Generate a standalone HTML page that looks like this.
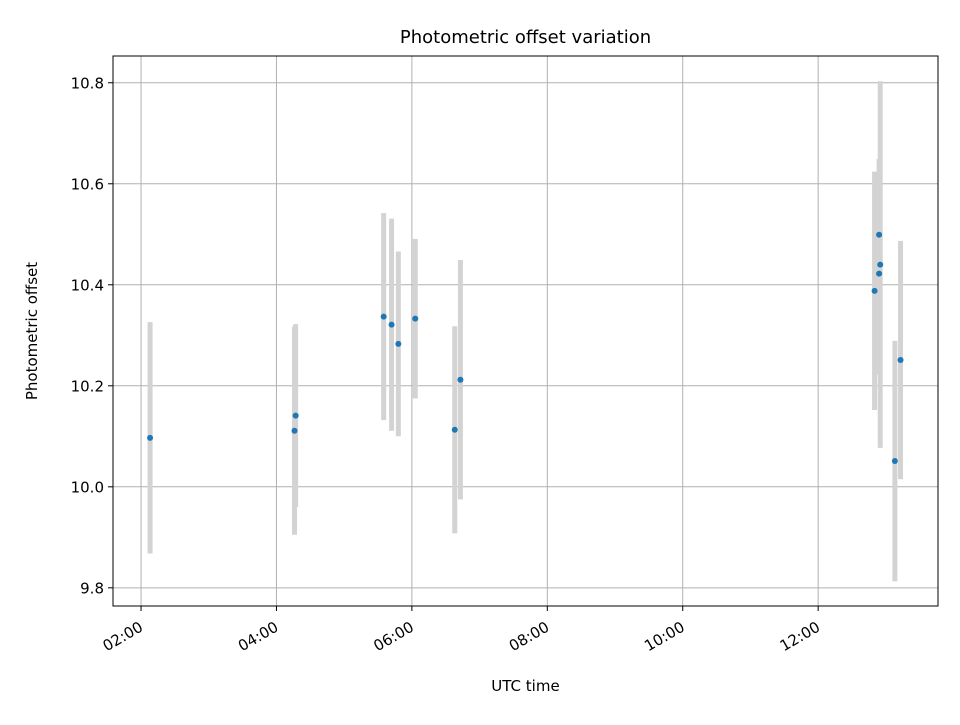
<!DOCTYPE html>
<html><head><meta charset="utf-8"><style>
body{margin:0;background:#fff}
svg text{font-family:"DejaVu Sans","Liberation Sans",sans-serif}
</style></head><body>
<svg id="chart" width="960" height="720" xmlns="http://www.w3.org/2000/svg"></svg>
<script>
const times=[128,256,257,335,342,348,363,398,403,770,774,775,774,788,793];
const values=[10.097,10.111,10.141,10.337,10.321,10.283,10.333,10.113,10.212,10.388,10.499,10.440,10.422,10.051,10.251];
const errors=[0.229,0.206,0.181,0.205,0.21,0.183,0.158,0.205,0.237,0.236,0.15,0.363,0.2,0.238,0.236];
const yTicks=[9.8,10.0,10.2,10.4,10.6,10.8];
const xTicks=[120,240,360,480,600,720];
const xTickLabels=["02:00","04:00","06:00","08:00","10:00","12:00"];
const L=113,R=938,T=56,B=606;
const x=m=>L+(m/60-1.586)/(13.77-1.586)*(R-L);
const y=v=>B-(v-9.764)/(10.853-9.764)*(B-T);
const s=document.getElementById('chart');const NS="http://www.w3.org/2000/svg";
function el(t,a,p){const e=document.createElementNS(NS,t);for(const k in a)e.setAttribute(k,a[k]);(p||s).appendChild(e);return e;}
const grid=el('g',{});


yTicks.forEach(v=>{const g=el('line',{x1:L,x2:R,y1:y(v),y2:y(v),stroke:'#b0b0b0','stroke-width':1},grid);


const t=el('line',{x1:L-5,x2:L,y1:y(v),y2:y(v),stroke:'#000'});


const lb=el('text',{x:L-9,y:y(v)+5.5,'text-anchor':'end','font-size':15});lb.textContent=v.toFixed(1);

});
xTicks.forEach((m,i)=>{const g=el('line',{x1:x(m),x2:x(m),y1:T,y2:B,stroke:'#b0b0b0','stroke-width':1},grid);


const t=el('line',{x1:x(m),x2:x(m),y1:B,y2:B+5,stroke:'#000'});


const ax=x(m)+3,ay=B+24;
const lb=el('text',{x:ax,y:ay,'text-anchor':'end','font-size':15,transform:`rotate(-30 ${ax} ${ay})`});lb.textContent=xTickLabels[i];

});
times.forEach((m,i)=>{const e=el('line',{x1:x(m),x2:x(m),y1:y(values[i]+errors[i]),y2:y(values[i]-errors[i]),stroke:'#d3d3d3','stroke-width':5});

});
times.forEach((m,i)=>{const c=el('circle',{cx:x(m),cy:y(values[i]),r:3,fill:'#1f77b4'});

});
const fr=el('rect',{x:L,y:T,width:R-L,height:B-T,fill:'none',stroke:'#000','stroke-width':1});


const ti=el('text',{x:(L+R)/2,y:43,'text-anchor':'middle','font-size':18});ti.textContent='Photometric offset variation';


const xl=el('text',{x:(L+R)/2,y:691,'text-anchor':'middle','font-size':15});xl.textContent='UTC time';


const yl=el('text',{x:37,y:(T+B)/2,'text-anchor':'middle','font-size':15,transform:`rotate(-90 37 ${(T+B)/2})`});yl.textContent='Photometric offset';


</script>
</body></html>
